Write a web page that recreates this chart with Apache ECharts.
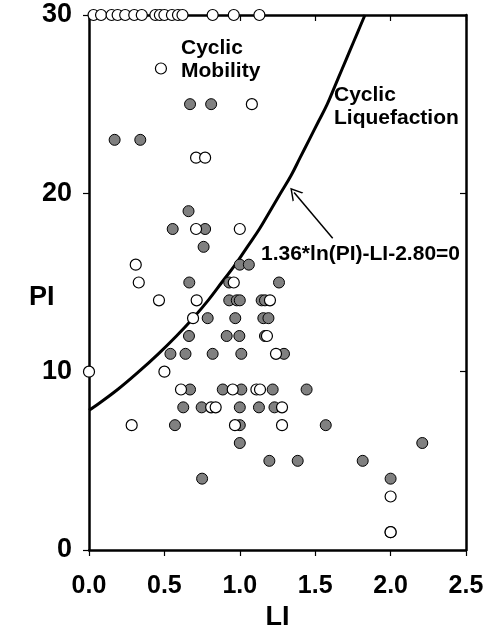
<!DOCTYPE html>
<html>
<head>
<meta charset="utf-8">
<script src="https://cdn.jsdelivr.net/npm/echarts@6/dist/echarts.min.js"></script>
<style>
html,body{margin:0;padding:0;background:#fff;}
#chart{width:488px;height:630px;}
</style>
</head>
<body>
<div id="chart"></div>
<script>
// Tick labels
const xTicks = [0.0, 0.5, 1.0, 1.5, 2.0, 2.5];
const yTicks = [0, 10, 20, 30];

// Cyclic liquefaction cases (grey, filled) [LI, PI]
const filledLI = [0.67,0.81, 0.17,0.34, 0.66, 0.555,0.77, 0.76, 1.0,1.06,
  0.665,0.93,1.26, 0.93,0.98,1.0,1.145,1.167, 0.787,0.97,1.156,1.19,
  0.663,0.913,0.997,1.167, 0.54,0.64,0.82,1.01,1.293,
  0.67,0.887,1.01,1.218,1.443, 0.625,0.747,1.0,1.127,1.23,
  0.57,1.0,1.57, 1.0,2.21, 1.196,1.384,1.815, 0.75,2.0];
const filledPI = [25,25, 23,23, 19, 18,18, 17, 16,16,
  15,15,15, 14,14,14,14,14, 13,13,13,13,
  12,12,12,12, 11,11,11,11,11,
  9,9,9,9,9, 8,8,8,8,8,
  7,7,7, 6,6, 5,5,5, 4,4];

// Cyclic mobility cases (white, open) [LI, PI]
const openLI = [0.03,0.08,0.15,0.19,0.24,0.30,0.35,0.44,0.47,0.50,0.55,0.59,0.62,0.82,0.96,1.13,
  0.477, 1.08, 0.71,0.77, 0.71,1.0, 0.31, 0.33,0.96,
  0.464,0.714,1.2, 0.69, 1.18, 1.24, 0.0,0.5,
  0.61,0.953,1.11,1.134, 0.81,0.84,1.28, 0.283,0.968,1.28, 2.0, 2.0,2.0];
const openPI = [30,30,30,30,30,30,30,30,30,30,30,30,30,30,30,30,
  27, 25, 22,22, 18,18, 16, 15,15,
  14,14,14, 13, 12, 11, 10,10,
  9,9,9,9, 8,8,8, 7,7,7, 3, 1,1];

// Boundary curve 1.36*ln(PI)-LI-2.80=0 [LI, PI]
const curveLI = [0.0,0.03,0.19,0.33,0.46,0.58,0.69,0.79,0.88,0.97,1.05,1.13,1.20,1.27,1.34,1.40,1.46,1.52,1.58,1.63,1.68,1.73,1.78,1.83];
const curvePI = [7.84,8,9,10,11,12,13,14,15,16,17,18,19,20,21,22,23,24,25,26,27,28,29,30];

// Arrow pointing to the curve [LI, PI]
const arrowFrom = [1.616, 17.48];
const arrowTo = [1.36, 20.05];

const zip = (a, b) => a.map((v, i) => [v, b[i]]);
const FONT = "'Liberation Sans', Arial, sans-serif";

const chart = echarts.init(document.getElementById('chart'), null, {renderer: 'canvas'});

const axisLine = {show: true, onZero: false, lineStyle: {color: '#000', width: 2.5}};
const option = {
  animation: false,
  backgroundColor: '#fff',
  grid: {left: 89, right: 22, top: 15, bottom: 80, containLabel: false, outerBoundsMode: 'none'},
  xAxis: [{
    type: 'value', min: xTicks[0], max: xTicks[xTicks.length - 1], interval: 0.5,
    position: 'bottom',
    axisLine: axisLine,
    axisTick: {show: true, inside: false, length: 6, lineStyle: {color: '#000', width: 1.2}},
    axisLabel: {formatter: v => v.toFixed(1), color: '#000', fontFamily: FONT, fontWeight: 'bold', fontSize: 25, margin: 24},
    splitLine: {show: false},
    name: 'LI', nameLocation: 'middle', nameGap: 53,
    nameTextStyle: {color: '#000', fontFamily: FONT, fontWeight: 'bold', fontSize: 27}
  }, {
    type: 'value', min: 0, max: 2.5, interval: 0.5, position: 'top',
    axisLine: axisLine,
    axisTick: {show: true, inside: true, length: 6, lineStyle: {color: '#000', width: 1.2}},
    axisLabel: {show: false}, splitLine: {show: false}
  }],
  yAxis: [{
    type: 'value', min: yTicks[0], max: yTicks[yTicks.length - 1], interval: 10,
    position: 'left',
    axisLine: axisLine,
    axisTick: {show: true, inside: false, length: 6, lineStyle: {color: '#000', width: 1.2}},
    axisLabel: {color: '#000', fontFamily: FONT, fontWeight: 'bold', fontSize: 27, margin: 17},
    splitLine: {show: false}
  }, {
    type: 'value', min: 0, max: 30, interval: 10, position: 'right',
    axisLine: axisLine,
    axisTick: {show: true, inside: true, length: 6, lineStyle: {color: '#000', width: 1.2}},
    axisLabel: {show: false}, splitLine: {show: false}
  }],
  graphic: [
    {type: 'text', left: 29, top: 284, style: {text: 'PI', fill: '#000', font: 'bold 27px ' + FONT}},
    {type: 'text', left: 181, top: 37, style: {text: 'Cyclic\nMobility', fill: '#000', font: 'bold 21px ' + FONT, lineHeight: 23}},
    {type: 'text', left: 334, top: 84, style: {text: 'Cyclic\nLiquefaction', fill: '#000', font: 'bold 21px ' + FONT, lineHeight: 23}},
    {type: 'text', left: 261, top: 244, style: {text: '1.36*ln(PI)-LI-2.80=0', fill: '#000', font: 'bold 21px ' + FONT}}
  ],
  series: [{
    type: 'line', name: 'boundary', data: zip(curveLI, curvePI),
    showSymbol: false, smooth: 0.4, clip: true,
    lineStyle: {color: '#000', width: 3},
    z: 3,
    markLine: {
      silent: true, animation: false,
      symbol: ['none', 'path://M0,10 L5,0 L10,10 L8.8,10 L5,2.4 L1.2,10 Z'],
      symbolSize: [14, 12],
      label: {show: false},
      lineStyle: {color: '#000', width: 1.5, type: 'solid'},
      data: [[{coord: arrowFrom}, {coord: arrowTo}]]
    }
  }, {
    type: 'scatter', name: 'Cyclic Liquefaction', data: zip(filledLI, filledPI),
    symbol: 'circle', symbolSize: 11, clip: false, z: 4,
    itemStyle: {color: '#808080', borderColor: '#000', borderWidth: 1, opacity: 1}
  }, {
    type: 'scatter', name: 'Cyclic Mobility', data: zip(openLI, openPI),
    symbol: 'circle', symbolSize: 11, clip: false, z: 5,
    itemStyle: {color: '#fff', borderColor: '#000', borderWidth: 1.2, opacity: 1}
  }]
};
chart.setOption(option);
</script>
</body>
</html>
